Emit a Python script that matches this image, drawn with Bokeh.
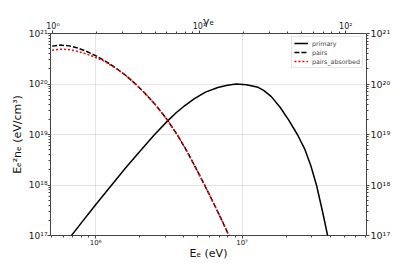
import numpy as np
from bokeh.plotting import figure
from bokeh.models import (LogAxis, Range1d, LogScale, FixedTicker, CustomJSTickFormatter,
                          Legend, LegendItem)
from bokeh.embed import file_html
from bokeh.resources import INLINE

# ---- data (log10 values) ----
primary_logE = [5.80, 5.83, 5.90, 6.00, 6.11, 6.20, 6.30, 6.40, 6.492, 6.55, 6.60, 6.675,
                6.75, 6.835, 6.90, 6.961, 7.03, 7.11, 7.15, 7.20, 7.26, 7.32, 7.38, 7.43,
                7.47, 7.51, 7.55, 7.585, 7.60]
primary_logY = [16.87, 16.98, 17.24, 17.61, 18.00, 18.32, 18.66, 18.99, 19.27, 19.43, 19.55, 19.71,
                19.84, 19.93, 19.975, 20.00, 19.985, 19.935, 19.87, 19.75, 19.54, 19.28, 18.99, 18.70,
                18.38, 17.98, 17.47, 16.99, 16.77]

pairs_logE = [5.703, 5.76, 5.82, 5.88, 5.94, 6.00, 6.06, 6.13, 6.20, 6.263, 6.33, 6.41,
              6.49, 6.561, 6.61, 6.65, 6.70, 6.744, 6.79, 6.83, 6.87, 6.915, 6.95]
pairs_logY = [20.75, 20.77, 20.755, 20.71, 20.643, 20.561, 20.465, 20.335, 20.183, 20.026, 19.838,
              19.585, 19.288, 18.978, 18.738, 18.526, 18.249, 18.0, 17.733, 17.495, 17.252,
              16.973, 16.75]

absorbed_logE = [5.703, 5.76, 5.82, 5.88, 5.94, 6.00, 6.06, 6.13, 6.20, 6.263, 6.33, 6.41,
                 6.49, 6.561, 6.61, 6.65, 6.70, 6.744, 6.79, 6.83, 6.87, 6.915, 6.95]
absorbed_logY = [20.67, 20.69, 20.68, 20.645, 20.59, 20.525, 20.45, 20.325, 20.183, 20.026, 19.838,
                 19.585, 19.288, 18.978, 18.738, 18.526, 18.249, 18.0, 17.733, 17.495, 17.252,
                 16.973, 16.75]

E_MIN, E_MAX = 4.92e5, 7.08e7
Y_MIN, Y_MAX = 1e17, 1e21
ME_C2 = 5.11e5  # eV

y_major = [1e17, 1e18, 1e19, 1e20, 1e21]
x_major = [1e5, 1e6, 1e7, 1e8]
g_major = [1.0, 10.0, 100.0]

def pw(a):
    return [10 ** v for v in a]

FONT = "DejaVu Sans"

p = figure(width=407, height=271, x_axis_type="log", y_axis_type="log",
           x_range=Range1d(E_MIN, E_MAX), y_range=Range1d(Y_MIN, Y_MAX),
           output_backend="svg", toolbar_location=None,
           min_border_left=50, min_border_right=41, min_border_top=33, min_border_bottom=36,
           x_axis_location=None, y_axis_location=None)
p.outline_line_color = "#444444"
p.outline_line_width = 1
p.background_fill_color = "white"
p.border_fill_color = "white"

sup_code = """
const s = {'0':'\u2070','1':'\u00b9','2':'\u00b2','3':'\u00b3','4':'\u2074','5':'\u2075','6':'\u2076','7':'\u2077','8':'\u2078','9':'\u2079','-':'\u207b'};
const e = Math.round(Math.log10(tick));
return '10' + String(e).split('').map(c => s[c]).join('');
"""

def minors(lo, hi):
    out = []
    for k in range(lo, hi):
        for m in range(2, 10):
            out.append(m * 10.0 ** k)
    return out

def style(ax, label_size="9px"):
    ax.formatter = CustomJSTickFormatter(code=sup_code)
    ax.major_label_text_font = FONT
    ax.major_label_text_font_size = label_size
    ax.major_label_text_color = "#222222"
    ax.axis_line_color = None
    ax.major_tick_line_color = "#444444"
    ax.minor_tick_line_color = "#444444"
    ax.major_tick_out = 3
    ax.major_tick_in = 0
    ax.minor_tick_out = 2
    ax.minor_tick_in = 0
    ax.major_label_standoff = 0
    ax.axis_label_text_font = FONT
    ax.axis_label_text_font_style = "normal"
    ax.axis_label_text_color = "#111111"
    ax.axis_label_text_font_size = "11px"

yt = FixedTicker(ticks=y_major, minor_ticks=minors(16, 21))
xt = FixedTicker(ticks=x_major, minor_ticks=minors(5, 8))
gt = FixedTicker(ticks=g_major, minor_ticks=minors(0, 3))

left = LogAxis(ticker=yt, axis_label="E\u2091\u00b2n\u2091 (eV/cm\u00b3)")
style(left)
left.axis_label_standoff = 2
p.add_layout(left, "left")

right = LogAxis(ticker=yt)
style(right, "9.5px")
right.major_label_standoff = 1
p.add_layout(right, "right")

bottom = LogAxis(ticker=xt, axis_label="E\u2091 (eV)")
style(bottom, "7px")
bottom.axis_label_standoff = -3
p.add_layout(bottom, "below")

p.extra_x_ranges = {"gamma": Range1d(E_MIN / ME_C2, E_MAX / ME_C2)}
p.extra_x_scales = {"gamma": LogScale()}
top = LogAxis(ticker=gt, x_range_name="gamma", axis_label="\u03b3\u2091")
style(top, "8px")
top.axis_label_standoff = -9
p.add_layout(top, "above")

p.xgrid.ticker = xt
p.ygrid.ticker = yt
for g in (p.xgrid, p.ygrid):
    g.grid_line_color = "#bbbbbb"
    g.grid_line_dash = "1 1"
    g.grid_line_width = 0.8

r1 = p.line(pw(primary_logE), pw(primary_logY), line_color="black", line_width=1.5)
r2 = p.line(pw(pairs_logE), pw(pairs_logY), line_color="black", line_width=1.5,
            line_dash="5 2")
r3 = p.line(pw(absorbed_logE), pw(absorbed_logY), line_color="red", line_width=1.5,
            line_dash="2 2")

legend = Legend(items=[LegendItem(label="primary", renderers=[r1]),
                       LegendItem(label="pairs", renderers=[r2]),
                       LegendItem(label="pairs_absorbed", renderers=[r3])],
                location="top_right")
legend.label_text_font = FONT
legend.label_text_font_size = "6.3px"
legend.glyph_height = 8
legend.glyph_width = 14
legend.label_height = 8
legend.label_standoff = 4
legend.spacing = 1
legend.padding = 2
legend.margin = 3
legend.border_line_color = "#cccccc"
legend.border_line_width = 0.8
legend.background_fill_alpha = 0.9
p.add_layout(legend)

open("out.html", "w").write(file_html(p, INLINE))
